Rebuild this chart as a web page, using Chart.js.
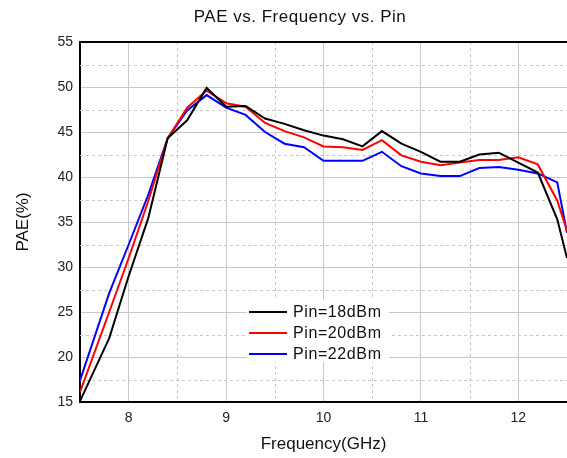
<!DOCTYPE html>
<html>
<head>
<meta charset="utf-8">
<script src="https://cdn.jsdelivr.net/npm/chart.js@4"></script>
<style>
  body { margin: 0; background: #fff; }
  canvas { display: block; }
</style>
</head>
<body>
<canvas id="chart" width="567" height="458"></canvas>
<script>
const freq = [7.5, 7.8, 8.0, 8.2, 8.4, 8.6, 8.8, 9.0, 9.2, 9.4, 9.6, 9.8, 10.0, 10.2,
  10.4, 10.6, 10.8, 11.0, 11.2, 11.4, 11.6, 11.8, 12.0, 12.2, 12.4, 12.5];

const pae18 = [15.1, 22.1, 29.0, 35.4, 44.3, 46.3, 49.9, 47.8, 47.9, 46.5, 45.9, 45.2, 44.6, 44.2,
  43.4, 45.1, 43.7, 42.8, 41.7, 41.7, 42.5, 42.7, 41.6, 40.5, 35.3, 31.0];
const pae20 = [16.1, 25.0, 31.0, 37.3, 44.3, 47.7, 49.6, 48.2, 47.8, 46.0, 45.1, 44.4, 43.4, 43.3,
  43.0, 44.1, 42.4, 41.7, 41.3, 41.6, 41.9, 41.9, 42.2, 41.4, 37.4, 34.0];
const pae22 = [17.4, 27.1, 32.5, 38.0, 44.3, 47.4, 49.1, 47.7, 46.9, 45.0, 43.7, 43.3, 41.8, 41.8,
  41.8, 42.8, 41.2, 40.4, 40.1, 40.1, 41.0, 41.1, 40.8, 40.4, 39.4, 33.8];

const seriesLabels = ["Pin=18dBm", "Pin=20dBm", "Pin=22dBm"];
const seriesColors = ["#000000", "#ff0000", "#0000ff"];

const xTicks = [8, 9, 10, 11, 12];
const yTicks = [15, 20, 25, 30, 35, 40, 45, 50, 55];
const xMinor = [8.5, 9.5, 10.5, 11.5];
const yMinor = [17.5, 22.5, 27.5, 32.5, 37.5, 42.5, 47.5, 52.5];

function toPoints(vals) {
  return freq.map((f, i) => ({x: f, y: vals[i]}));
}

const extras = {
  id: "extras",
  beforeDatasetsDraw(chart) {
    const ctx = chart.ctx;
    const a = chart.chartArea;
    const xs = chart.scales.x, ys = chart.scales.y;
    ctx.save();
    ctx.strokeStyle = "#c8c8c8";
    ctx.lineWidth = 1;
    ctx.setLineDash([3, 3]);
    xMinor.forEach(v => {
      const px = Math.round(xs.getPixelForValue(v)) + 0.5;
      ctx.beginPath(); ctx.moveTo(px, a.top); ctx.lineTo(px, a.bottom); ctx.stroke();
    });
    yMinor.forEach(v => {
      const py = Math.round(ys.getPixelForValue(v)) + 0.5;
      ctx.beginPath(); ctx.moveTo(a.left, py); ctx.lineTo(a.right, py); ctx.stroke();
    });
    ctx.restore();
  },
  afterDraw(chart) {
    const ctx = chart.ctx;
    const a = chart.chartArea;
    ctx.save();
    // top frame line
    ctx.strokeStyle = "#000";
    ctx.lineWidth = 2;
    ctx.beginPath(); ctx.moveTo(a.left - 1, a.top); ctx.lineTo(a.right, a.top); ctx.stroke();

    // title
    ctx.fillStyle = "#111";
    ctx.font = "17px 'Liberation Sans', Arial, sans-serif";
    ctx.letterSpacing = "0.5px";
    ctx.textAlign = "center";
    ctx.textBaseline = "middle";
    ctx.fillText("PAE vs. Frequency vs. Pin", 300, 17);

    // legend inside plot
    ctx.fillStyle = "#fff";
    ctx.fillRect(247, 300, 142, 62);
    ctx.font = "16px 'Liberation Sans', Arial, sans-serif";
    ctx.letterSpacing = "0.6px";
    ctx.textAlign = "left";
    chart.data.datasets.forEach((ds, i) => {
      const y = 312 + i * 21;
      ctx.strokeStyle = ds.borderColor;
      ctx.lineWidth = 2;
      ctx.beginPath(); ctx.moveTo(249, y); ctx.lineTo(287, y); ctx.stroke();
      ctx.fillStyle = "#111";
      ctx.fillText(ds.label, 293, y + 1);
    });
    ctx.restore();
  }
};

new Chart(document.getElementById("chart"), {
  type: "scatter",
  data: {
    datasets: [pae18, pae20, pae22].map((vals, i) => ({
      label: seriesLabels[i],
      data: toPoints(vals),
      showLine: true,
      borderColor: seriesColors[i],
      backgroundColor: seriesColors[i],
      borderWidth: 2,
      pointRadius: 0,
      tension: 0
    }))
  },
  options: {
    responsive: false,
    animation: false,
    layout: { padding: { top: 42, right: 0, left: 0, bottom: 0 } },
    plugins: { legend: { display: false }, title: { display: false }, tooltip: { enabled: false } },
    scales: {
      x: {
        type: "linear",
        min: 7.5,
        max: 12.5,
        afterBuildTicks: s => { s.ticks = xTicks.map(v => ({value: v})); },
        afterFit: s => { s.height = 56; },
        grid: { color: "#c8c8c8", lineWidth: 1, drawTicks: false },
        border: { color: "#000", width: 2 },
        ticks: { color: "#222", padding: 8, font: { size: 14, family: "'Liberation Sans', Arial" } },
        title: { display: true, text: "Frequency(GHz)", color: "#111", padding: 3,
          font: { size: 17, family: "'Liberation Sans', Arial" } }
      },
      y: {
        min: 15,
        max: 55,
        afterBuildTicks: s => { s.ticks = yTicks.map(v => ({value: v})); },
        afterFit: s => { s.width = 80; },
        grid: { color: "#c8c8c8", lineWidth: 1, drawTicks: false },
        border: { color: "#000", width: 2 },
        ticks: { color: "#222", padding: 7, font: { size: 14, family: "'Liberation Sans', Arial" } },
        title: { display: true, text: "PAE(%)", color: "#111", padding: 13,
          font: { size: 17, family: "'Liberation Sans', Arial" } }
      }
    }
  },
  plugins: [extras]
});
</script>
</body>
</html>
